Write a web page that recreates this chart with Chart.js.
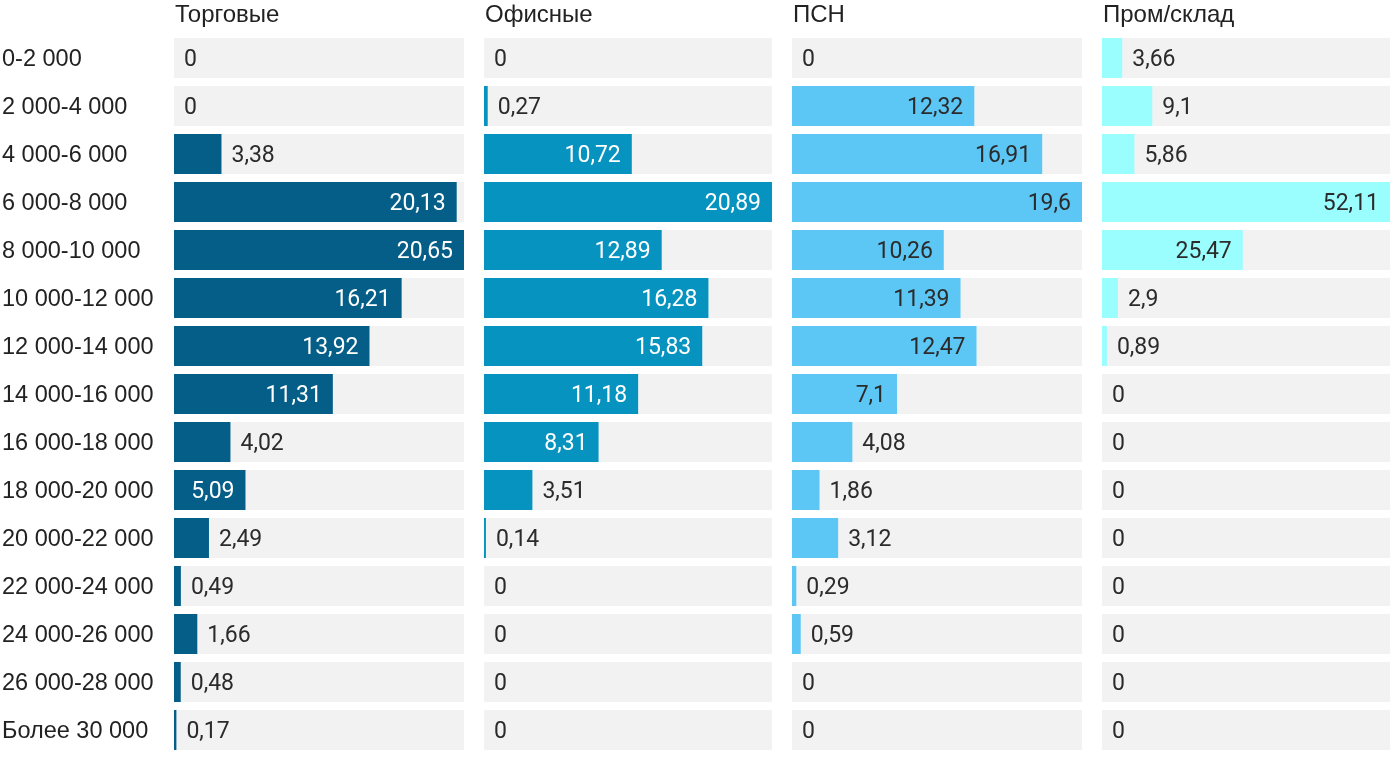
<!DOCTYPE html>
<html>
<head>
<meta charset="utf-8">
<script src="https://cdn.jsdelivr.net/npm/chart.js@4"></script>
<style>
  html, body { margin: 0; padding: 0; background: #ffffff; }
  body { width: 1400px; height: 766px; position: relative; overflow: hidden; }
  canvas { position: absolute; top: 0; }
</style>
</head>
<body>
<canvas id="c0" width="464" height="766" style="left:0px"></canvas>
<canvas id="c1" width="288" height="766" style="left:484px"></canvas>
<canvas id="c2" width="290" height="766" style="left:792px"></canvas>
<canvas id="c3" width="288" height="766" style="left:1102px"></canvas>
<script>
const categories = ['0-2 000', '2 000-4 000', '4 000-6 000', '6 000-8 000', '8 000-10 000',
  '10 000-12 000', '12 000-14 000', '14 000-16 000', '16 000-18 000', '18 000-20 000',
  '20 000-22 000', '22 000-24 000', '24 000-26 000', '26 000-28 000', 'Более 30 000'];
const titles = ['Торговые', 'Офисные', 'ПСН', 'Пром/склад'];
const trade = [0, 0, 3.38, 20.13, 20.65, 16.21, 13.92, 11.31, 4.02, 5.09, 2.49, 0.49, 1.66, 0.48, 0.17];
const office = [0, 0.27, 10.72, 20.89, 12.89, 16.28, 15.83, 11.18, 8.31, 3.51, 0.14, 0, 0, 0, 0];
const psn = [0, 12.32, 16.91, 19.6, 10.26, 11.39, 12.47, 7.1, 4.08, 1.86, 3.12, 0.29, 0.59, 0, 0];
const industrial = [3.66, 9.1, 5.86, 52.11, 25.47, 2.9, 0.89, 0, 0, 0, 0, 0, 0, 0, 0];

const seriesList = [trade, office, psn, industrial];
const colors = ['#045e87', '#0793bf', '#5cc7f5', '#9afeff'];
const insideText = ['#ffffff', '#ffffff', '#2b2b2b', '#2b2b2b'];
const VALUE_FONT = 'Roboto, "Noto Sans", sans-serif';
const TEXT_FONT = '"Liberation Sans", Arial, sans-serif';

const fmt = v => String(v).replace('.', ',');

const labelPlugin = {
  id: 'barLabels',
  afterDatasetsDraw(chart, args, opts) {
    const ctx = chart.ctx;
    const meta = chart.getDatasetMeta(0);
    const data = chart.data.datasets[0].data;
    ctx.save();
    ctx.font = '23px ' + VALUE_FONT;
    ctx.textBaseline = 'middle';
    meta.data.forEach((bar, i) => {
      const txt = fmt(data[i]);
      const w = ctx.measureText(txt).width;
      const barW = bar.x - chart.chartArea.left;
      if (barW >= w + 26) {
        ctx.textAlign = 'right';
        ctx.fillStyle = opts.inside;
        ctx.fillText(txt, bar.x - 11, bar.y + 2);
      } else {
        ctx.textAlign = 'left';
        ctx.fillStyle = '#2b2b2b';
        ctx.fillText(txt, bar.x + 10, bar.y + 2);
      }
    });
    ctx.restore();
  }
};

const titlePlugin = {
  id: 'panelTitle',
  afterDraw(chart, args, opts) {
    const ctx = chart.ctx;
    ctx.save();
    ctx.fillStyle = '#222222';
    ctx.textAlign = 'left';
    ctx.textBaseline = 'middle';
    ctx.font = '24px ' + TEXT_FONT;
    ctx.fillText(opts.text, chart.chartArea.left + 1, 15);
    if (opts.showCategories) {
      ctx.font = '23.5px ' + TEXT_FONT;
      const meta = chart.getDatasetMeta(0);
      meta.data.forEach((bar, i) => {
        ctx.fillText(chart.data.labels[i], 2, bar.y + 2);
      });
    }
    ctx.restore();
  }
};

seriesList.forEach((series, k) => {
  const maxV = Math.max(...series);
  const bg = series.map(() => maxV);
  const first = k === 0;
  new Chart(document.getElementById('c' + k), {
    type: 'bar',
    data: {
      labels: categories,
      datasets: [
        { data: series, backgroundColor: colors[k], grouped: false, order: 0,
          categoryPercentage: 1, barPercentage: 40 / 48, borderWidth: 0 },
        { data: bg, backgroundColor: '#f2f2f2', grouped: false, order: 1,
          categoryPercentage: 1, barPercentage: 40 / 48, borderWidth: 0 }
      ]
    },
    options: {
      indexAxis: 'y',
      responsive: false,
      animation: false,
      devicePixelRatio: 1,
      layout: { padding: { top: 34, bottom: 12, left: first ? 174 : 0, right: 0 } },
      scales: {
        x: { display: false, min: 0, max: maxV },
        y: { display: false }
      },
      plugins: {
        legend: { display: false },
        tooltip: { enabled: false },
        barLabels: { inside: insideText[k] },
        panelTitle: { text: titles[k], showCategories: first }
      }
    },
    plugins: [labelPlugin, titlePlugin]
  });
});
</script>
</body>
</html>
